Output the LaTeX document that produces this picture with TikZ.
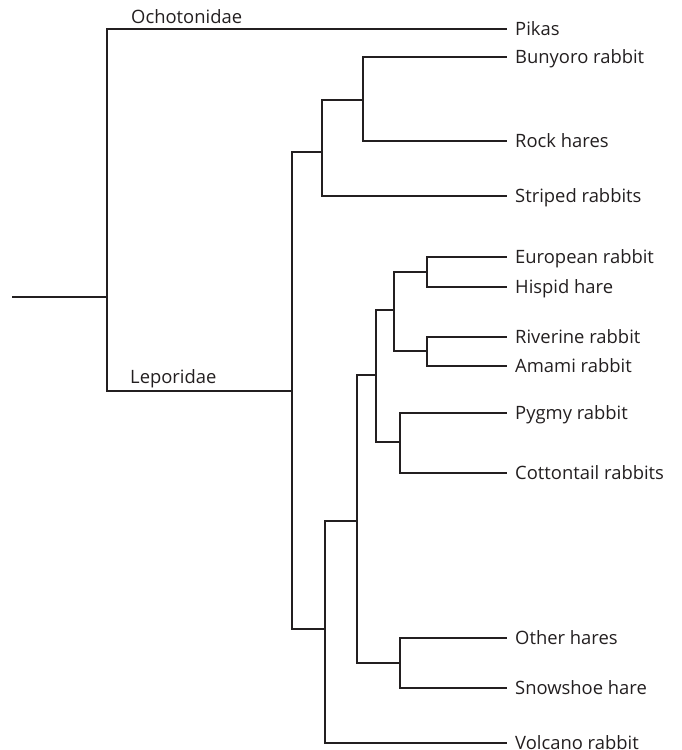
\documentclass[tikz,border=0pt]{standalone}
\usepackage{fontspec}
\setmainfont{Open Sans}
\definecolor{ink}{HTML}{231F20}
\begin{document}
\begin{tikzpicture}[x=1pt,y=-1pt,
  branch/.style={draw=ink,line width=2.5pt,line join=miter},
  leaf/.style={anchor=base west,inner sep=0pt,text=ink,font=\fontsize{18.4}{22}\selectfont},
  clade/.style={anchor=base west,inner sep=0pt,text=ink,font=\fontsize{18.4}{22}\selectfont}]
\path[use as bounding box] (0,0) rectangle (682,750);
% internal nodes
\coordinate (root) at (12,297);
\coordinate (n1) at (107,297);
\coordinate (n2) at (292,391);
\coordinate (n3) at (322,152);
\coordinate (n4) at (363,100);
\coordinate (n5) at (325,629);
\coordinate (n6) at (357,521);
\coordinate (n7) at (376,375);
\coordinate (n8) at (394,310);
\coordinate (n9) at (427,272);
\coordinate (n10) at (427,351);
\coordinate (n11) at (400,442);
\coordinate (n12) at (400,663);
% leaf ends
\foreach \nm/\yy in {pik/29,bun/57,roc/141,str/196,eur/257,his/287,riv/337,ama/366,pyg/413,cot/473,oth/638,sno/688,vol/743}
  \coordinate (\nm) at (507,\yy);
% labels
\node[leaf] (tpik) at ([xshift=8pt,yshift=-6.5pt]pik) {Pikas};
\node[leaf] (tbun) at ([xshift=8pt,yshift=-6.5pt]bun) {Bunyoro rabbit};
\node[leaf] (troc) at ([xshift=8pt,yshift=-6.5pt]roc) {Rock hares};
\node[leaf] (tstr) at ([xshift=8pt,yshift=-6.5pt]str) {Striped rabbits};
\node[leaf] (teur) at ([xshift=8pt,yshift=-6.5pt]eur) {European rabbit};
\node[leaf] (this) at ([xshift=8pt,yshift=-6.5pt]his) {Hispid hare};
\node[leaf] (triv) at ([xshift=8pt,yshift=-6.5pt]riv) {Riverine rabbit};
\node[leaf] (tama) at ([xshift=8pt,yshift=-6.5pt]ama) {Amami rabbit};
\node[leaf] (tpyg) at ([xshift=8pt,yshift=-6.5pt]pyg) {Pygmy rabbit};
\node[leaf] (tcot) at ([xshift=8pt,yshift=-6.5pt]cot) {Cottontail rabbits};
\node[leaf] (toth) at ([xshift=8pt,yshift=-6.5pt]oth) {Other hares};
\node[leaf] (tsno) at ([xshift=8pt,yshift=-6.5pt]sno) {Snowshoe hare};
\node[leaf] (tvol) at ([xshift=8pt,yshift=-6.5pt]vol) {Volcano rabbit};
\node[clade] (ocho) at (131,23) {Ochotonidae};
\node[clade] (lepo) at (130,383) {Leporidae};
% branches
\draw[branch] (root) -- (n1);
\draw[branch] (n1) |- (pik);
\draw[branch] (n1) |- (n2);
\draw[branch] (n2) |- (n3);
\draw[branch] (n2) |- (n5);
\draw[branch] (n3) |- (n4);
\draw[branch] (n3) |- (str);
\draw[branch] (n4) |- (bun);
\draw[branch] (n4) |- (roc);
\draw[branch] (n5) |- (n6);
\draw[branch] (n5) |- (vol);
\draw[branch] (n6) |- (n7);
\draw[branch] (n6) |- (n12);
\draw[branch] (n7) |- (n8);
\draw[branch] (n7) |- (n11);
\draw[branch] (n8) |- (n9);
\draw[branch] (n8) |- (n10);
\draw[branch] (n9) |- (eur);
\draw[branch] (n9) |- (his);
\draw[branch] (n10) |- (riv);
\draw[branch] (n10) |- (ama);
\draw[branch] (n11) |- (pyg);
\draw[branch] (n11) |- (cot);
\draw[branch] (n12) |- (oth);
\draw[branch] (n12) |- (sno);
\end{tikzpicture}
\end{document}
